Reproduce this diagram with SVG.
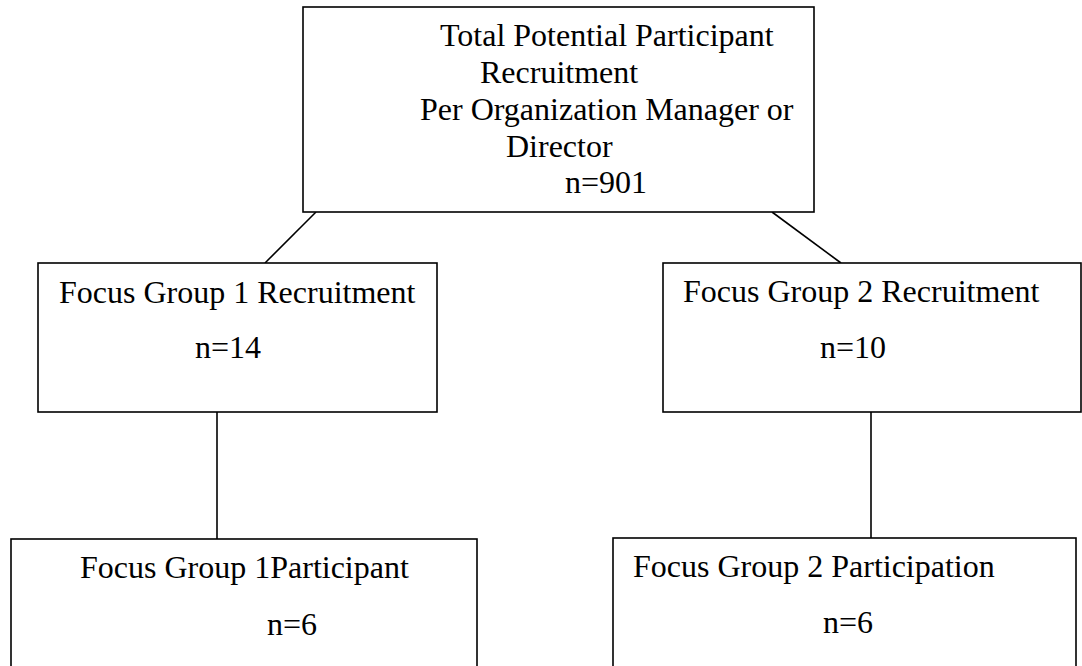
<svg xmlns="http://www.w3.org/2000/svg" width="1082" height="666" viewBox="0 0 1082 666">
<style>
.box{fill:#fff;stroke:#000;stroke-width:1.6}
.t{font-family:"Liberation Serif","Times New Roman",serif;font-size:32px;fill:#000}
.c{stroke:#000;stroke-width:1.6;fill:none}
</style>
<rect width="1082" height="666" fill="#fff"/>
<g id="connectors">
<line class="c" x1="316" y1="212" x2="265" y2="263"/>
<line class="c" x1="772" y1="212" x2="841" y2="263"/>
<line class="c" x1="217" y1="412" x2="217" y2="539"/>
<line class="c" x1="871" y1="412" x2="871" y2="538"/>
</g>
<g id="total">
<rect class="box" x="303" y="7" width="511" height="205"/>
<text class="t" x="440" y="46">Total Potential Participant</text>
<text class="t" x="480" y="83">Recruitment</text>
<text class="t" x="420" y="120">Per Organization Manager or</text>
<text class="t" x="506" y="157">Director</text>
<text class="t" x="565" y="193">n=901</text>
</g>
<g id="fg1-recruitment">
<rect class="box" x="38" y="263" width="399" height="149"/>
<text class="t" x="59" y="303">Focus Group 1 Recruitment</text>
<text class="t" x="195" y="358">n=14</text>
</g>
<g id="fg2-recruitment">
<rect class="box" x="663" y="263" width="418" height="149"/>
<text class="t" x="683" y="302">Focus Group 2 Recruitment</text>
<text class="t" x="820" y="358">n=10</text>
</g>
<g id="fg1-participant">
<rect class="box" x="11" y="539" width="466" height="140"/>
<text class="t" x="80" y="578">Focus Group 1Participant</text>
<text class="t" x="267" y="635">n=6</text>
</g>
<g id="fg2-participation">
<rect class="box" x="613" y="538" width="463" height="140"/>
<text class="t" x="633" y="577">Focus Group 2 Participation</text>
<text class="t" x="823" y="633">n=6</text>
</g>
</svg>
